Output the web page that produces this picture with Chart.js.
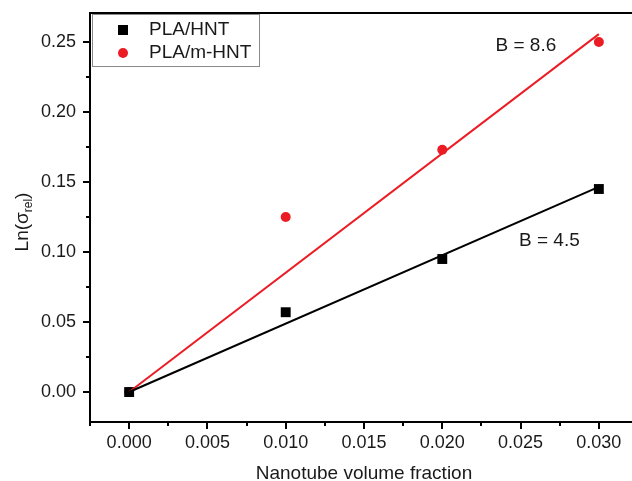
<!DOCTYPE html>
<html>
<head>
<meta charset="utf-8">
<script src="https://cdn.jsdelivr.net/npm/chart.js@4/dist/chart.umd.min.js"></script>
<style>
  html, body { margin: 0; padding: 0; background: #fff; overflow: hidden; }
  #wrap { width: 632px; height: 481px; overflow: hidden; }
</style>
</head>
<body>
<div id="wrap"><canvas id="chart" width="645" height="481"></canvas></div>
<script>
// data
var fractions = [0, 0.01, 0.02, 0.03];
var hntValues = [0, 0.057, 0.095, 0.145];
var mhntValues = [0, 0.125, 0.173, 0.250];

// fitted lines through origin
var fitX = [0, 0.03];
var hntFit = [0, 0.1465];
var mhntFit = [0, 0.2556];

var seriesNames = ['PLA/HNT', 'PLA/m-HNT'];
var slopeLabels = ['B = 4.5', 'B = 8.6'];

var RED = '#ec1c24';
var FONT = '"Liberation Sans", Arial, sans-serif';

function pts(xs, ys) {
  return xs.map(function (x, i) { return { x: x, y: ys[i] }; });
}

// minor / major tick marks, drawn outward from the axes
var tickMarks = {
  id: 'tickMarks',
  afterDraw: function (chart) {
    var ctx = chart.ctx;
    var area = chart.chartArea;
    ctx.save();
    ctx.strokeStyle = '#000';
    ctx.lineWidth = 2;
    // top frame line
    ctx.beginPath();
    ctx.moveTo(area.left - 1, area.top);
    ctx.lineTo(area.right, area.top);
    ctx.stroke();

    var xs = chart.scales.x;
    xs.ticks.forEach(function (t) {
      var major = Math.abs(t.value / 0.005 - Math.round(t.value / 0.005)) < 1e-6;
      var px = Math.round(xs.getPixelForValue(t.value));
      ctx.beginPath();
      ctx.moveTo(px, area.bottom);
      ctx.lineTo(px, area.bottom + (major ? 7 : 4));
      ctx.stroke();
    });
    var ys = chart.scales.y;
    ys.ticks.forEach(function (t) {
      var major = Math.abs(t.value / 0.05 - Math.round(t.value / 0.05)) < 1e-6;
      var py = Math.round(ys.getPixelForValue(t.value));
      ctx.beginPath();
      ctx.moveTo(area.left, py);
      ctx.lineTo(area.left - (major ? 7 : 4), py);
      ctx.stroke();
    });
    ctx.restore();
  }
};

// legend box, slope notes and the y title with subscript
var extras = {
  id: 'extras',
  afterDraw: function (chart) {
    var ctx = chart.ctx;
    var xs = chart.scales.x, ys = chart.scales.y;
    ctx.save();

    // legend
    ctx.strokeStyle = '#8a8a8a';
    ctx.lineWidth = 1;
    ctx.strokeRect(92.5, 14.5, 167, 52);
    ctx.fillStyle = '#000';
    ctx.fillRect(118, 25, 10, 10);
    ctx.fillStyle = RED;
    ctx.beginPath();
    ctx.arc(123, 53, 5, 0, Math.PI * 2);
    ctx.fill();
    ctx.fillStyle = '#1a1a1a';
    ctx.font = '19px ' + FONT;
    ctx.textBaseline = 'middle';
    ctx.textAlign = 'left';
    ctx.fillText(seriesNames[0], 149, 30);
    ctx.fillText(seriesNames[1], 149, 53);

    // slope notes
    ctx.fillText(slopeLabels[1], xs.getPixelForValue(0.0234), ys.getPixelForValue(0.247));
    ctx.fillText(slopeLabels[0], xs.getPixelForValue(0.0249), ys.getPixelForValue(0.108));

    // y title: Ln(σrel)
    ctx.translate(22, 222);
    ctx.rotate(-Math.PI / 2);
    var big = '19px ' + FONT, small = '12px ' + FONT;
    ctx.font = big;
    var w1 = ctx.measureText('Ln(σ').width;
    var w3 = ctx.measureText(')').width;
    ctx.font = small;
    var w2 = ctx.measureText('rel').width;
    var x0 = -(w1 + w2 + w3) / 2;
    ctx.textBaseline = 'alphabetic';
    ctx.font = big;
    ctx.fillText('Ln(σ', x0, 6);
    ctx.font = small;
    ctx.fillText('rel', x0 + w1, 10);
    ctx.font = big;
    ctx.fillText(')', x0 + w1 + w2, 6);
    ctx.restore();
  }
};

var chart = new Chart(document.getElementById('chart'), {
  type: 'scatter',
  data: {
    datasets: [
      {
        label: 'fit HNT',
        data: pts(fitX, hntFit),
        showLine: true,
        borderColor: '#000',
        borderWidth: 2,
        pointRadius: 0
      },
      {
        label: 'fit m-HNT',
        data: pts(fitX, mhntFit),
        showLine: true,
        borderColor: RED,
        borderWidth: 2,
        pointRadius: 0
      },
      {
        label: seriesNames[0],
        data: pts(fractions, hntValues),
        pointStyle: 'rect',
        pointRadius: 7,
        backgroundColor: '#000',
        borderColor: '#000',
        borderWidth: 0
      },
      {
        label: seriesNames[1],
        data: pts(fractions, mhntValues),
        pointStyle: 'circle',
        pointRadius: 5,
        backgroundColor: RED,
        borderColor: RED,
        borderWidth: 0
      }
    ]
  },
  options: {
    responsive: false,
    devicePixelRatio: 1,
    animation: false,
    layout: { padding: { top: 13, right: 6, left: 0, bottom: 0 } },
    plugins: {
      legend: { display: false },
      tooltip: { enabled: false }
    },
    scales: {
      x: {
        type: 'linear',
        min: -0.0025,
        max: 0.0325,
        grid: { display: false, drawTicks: false },
        border: { display: true, color: '#000', width: 2 },
        ticks: {
          stepSize: 0.0025,
          includeBounds: false,
          autoSkip: false,
          maxRotation: 0,
          padding: 10,
          color: '#1a1a1a',
          font: { family: FONT, size: 18 },
          callback: function (v) {
            var major = Math.abs(v / 0.005 - Math.round(v / 0.005)) < 1e-6;
            return major && v >= 0 ? v.toFixed(3) : '';
          }
        },
        title: {
          display: true,
          text: 'Nanotube volume fraction',
          color: '#1a1a1a',
          font: { family: FONT, size: 19, lineHeight: 1 },
          padding: { top: 0, bottom: -2 }
        },
        afterFit: function (s) {
          s.height = 59;
          s.paddingLeft = 0;
          s.paddingRight = 0;
        }
      },
      y: {
        min: -0.0214,
        max: 0.2707,
        grid: { display: false, drawTicks: false },
        border: { display: true, color: '#000', width: 2 },
        ticks: {
          stepSize: 0.025,
          includeBounds: false,
          autoSkip: false,
          padding: 14,
          color: '#1a1a1a',
          font: { family: FONT, size: 18 },
          callback: function (v) {
            var major = Math.abs(v / 0.05 - Math.round(v / 0.05)) < 1e-6;
            return major ? v.toFixed(2) : '';
          }
        },
        afterFit: function (s) {
          s.width = 90;
          s.paddingTop = 0;
          s.paddingBottom = 0;
        }
      }
    }
  },
  plugins: [tickMarks, extras]
});
</script>
</body>
</html>
